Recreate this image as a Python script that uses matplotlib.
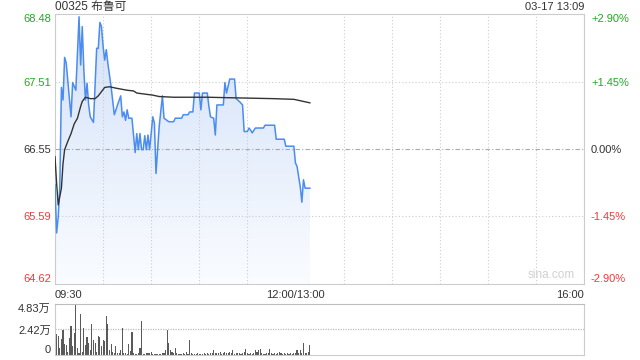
import numpy as np
import matplotlib
matplotlib.use("Agg")
import matplotlib.pyplot as plt
from matplotlib.colors import LinearSegmentedColormap

plt.rcParams['font.family'] = ['Liberation Sans', 'Noto Sans CJK SC', 'DejaVu Sans']

# minutes since 09:30 (trading minutes, lunch removed)
price_t = [0, 1, 2, 3, 4, 5, 6, 7, 10, 11, 13, 15, 16, 17, 18, 19, 20, 21, 22,
           24, 26, 27, 28, 29, 30, 31, 32, 33, 35, 37, 39, 41, 42, 43, 44, 45, 46, 48,
           50, 51, 52, 53, 54, 55, 56, 57, 58, 59, 61, 62, 63, 65, 67, 68, 71, 74, 75, 79,
           80, 83, 84, 86, 87, 90, 91, 92, 95, 96, 97, 99, 100, 101, 105, 106, 107, 109,
           112, 113, 115, 117, 118, 120, 121, 122, 123, 125, 130, 131, 137, 138, 143, 144,
           149, 150, 151, 153, 154, 155, 156, 159]
price_v = [66.04, 65.35, 65.58, 66.01, 67.43, 67.25, 67.86, 67.78, 67.01, 67.50, 67.39,
           68.44, 67.75, 68.30, 67.68, 67.25, 67.49, 67.18, 67.01, 66.93, 67.99, 67.99,
           68.36, 68.30, 68.02, 67.82, 67.97, 67.77, 67.44, 67.04, 67.18, 67.31, 67.01,
           67.08, 66.96, 67.11, 66.99, 66.99, 66.50, 66.77, 66.54, 66.77, 66.54, 66.54,
           66.74, 66.54, 66.75, 66.54, 67.01, 66.92, 66.20, 66.87, 67.31, 66.99, 66.94,
           66.94, 66.99, 66.99, 67.04, 67.04, 67.08, 67.08, 67.35, 67.35, 67.11, 67.35,
           67.35, 67.16, 67.01, 66.99, 66.75, 67.18, 67.18, 67.50, 67.35, 67.55, 67.55,
           67.27, 67.23, 67.18, 66.80, 66.80, 66.85, 66.82, 66.78, 66.85, 66.85, 66.89,
           66.89, 66.69, 66.69, 66.59, 66.59, 66.35, 66.30, 66.01, 65.79, 66.11, 65.99,
           65.99]

avg_t = [0, 1, 2, 4, 5, 6, 8, 10, 12, 14, 16, 17, 19, 22, 25, 27, 29, 31, 34, 38, 45,
         49, 51, 61, 65, 74, 95, 115, 136, 149, 151, 155, 159]
avg_v = [66.44, 66.06, 65.75, 65.99, 66.34, 66.54, 66.66, 66.77, 66.91, 66.99, 67.16,
         67.23, 67.29, 67.27, 67.27, 67.31, 67.37, 67.43, 67.44, 67.42, 67.39, 67.38,
         67.35, 67.32, 67.30, 67.29, 67.29, 67.28, 67.27, 67.26, 67.25, 67.23, 67.21]

# volume per minute, in 万
vol = [1.06, 2.0, 1.76, 0.64, 1.5, 2.4, 1.06, 0.96, 0.32, 1.6,
       2.78, 0.86, 2.08, 4.83, 0.64, 0.22, 3.84, 0.32, 2.59, 0.96,
       1.66, 1.12, 0.48, 2.97, 1.44, 1.12, 0.32, 1.76, 1.7, 0.86,
       1.38, 1.28, 3.74, 2.97, 0.48, 1.06, 0.32, 0.16, 0.86, 0.22,
       0.16, 0.48, 2.59, 0.22, 0.22, 0.06, 1.06, 0.42, 2.14, 0.16,
       0.06, 0.06, 0.16, 0.64, 3.23, 0.1, 0.06, 0.16, 0.22, 0.16,
       0.32, 0.1, 0.06, 0.1, 0.06, 0.13, 0.1, 0.22, 0.22, 0.48,
       2.4, 1.18, 0.48, 0.32, 0.16, 0.7, 0.16, 0.1, 0.13,
       0.1, 0.16, 0.06, 0.32, 0.1, 1.38, 0.16, 0.1, 0.06,
       0.1, 0.16, 0.06, 0.13, 0.1, 0.22, 0.1, 0.16, 0.13, 0.16,
       0.22, 0.48, 0.16, 0.22, 0.16, 0.32, 0.1, 0.16, 0.32, 0.16,
       0.22, 0.32, 0.16, 0.48, 0.13, 0.16, 0.22, 0.16, 0.13, 0.16,
       0.32, 0.58, 0.16, 0.13, 0.16, 0.1, 0.22, 0.48, 0.32,
       0.48, 0.58, 0.16, 0.13, 0.1, 0.16, 0.22, 0.58, 0.16,
       0.13, 0.16, 0.1, 0.22, 0.32, 0.16, 0.13, 0.16, 0.1, 0.16,
       0.13, 0.16, 0.13, 0.16, 0.22, 0.48, 0.16, 0.48, 0.16,
       1.18, 0.16, 0.22, 0.32, 0.96]

prev_close = 66.55
y_levels = [64.62, 65.59, 66.55, 67.51, 68.48]
y_labels = ['64.62', '65.59', '66.55', '67.51', '68.48']
pct_labels = ['-2.90%', '-1.45%', '0.00%', '+1.45%', '+2.90%']
level_colors = ['#f03a3a', '#f03a3a', '#333333', '#22a822', '#22a822']
x_ticks = [0, 150, 330]
x_labels = ['09:30', '12:00/13:00', '16:00']
vol_ticks = [0, 2.42, 4.83]
vol_labels = ['0', '2.42万', '4.83万']

fig = plt.figure(figsize=(6.4, 3.6), dpi=100)
ax = fig.add_axes([55 / 640, 1 - 284 / 360, 529 / 640, 270 / 360])
axv = fig.add_axes([55 / 640, 1 - 355 / 360, 529 / 640, 51 / 360])

ax.set_xlim(0, 330)
ax.set_ylim(64.62, 68.48)

# gradient fill under price
poly = ax.fill_between(price_t, price_v, 64.62, color='none', lw=0)
cmap = LinearSegmentedColormap.from_list('fill', ['#fafcff', '#d3e1f9'])
grad = np.linspace(0, 1, 256).reshape(-1, 1)
im = ax.imshow(grad, extent=[0, 330, 64.62, 68.48], origin='lower', aspect='auto',
               cmap=cmap, zorder=1)
im.set_clip_path(poly.get_paths()[0], transform=ax.transData)

ax.plot(price_t, price_v, color='#4a8cf0', lw=1.1, zorder=3)
ax.plot(avg_t, avg_v, color='#333333', lw=1.0, zorder=4)

# grid
for lv in y_levels[1:-1]:
    if lv == prev_close:
        ax.axhline(lv, color='#a8a8a8', lw=0.8, ls=(0, (4, 2, 1, 2)), zorder=2)
    else:
        ax.axhline(lv, color='#cccccc', lw=0.8, ls=(0, (1, 2)), zorder=2)
ax.set_xticks(range(30, 330, 30), minor=True)
ax.grid(which='minor', axis='x', color='#cccccc', lw=0.8, ls=(0, (1, 2)), zorder=2)
ax.tick_params(which='minor', length=0)

for s in ax.spines.values():
    s.set_color('#cccccc')
    s.set_linewidth(0.8)

ax.set_yticks(y_levels)
ax.set_yticklabels(y_labels, fontsize=8)
ax.tick_params(axis='y', length=0, pad=3)
for lbl, c in zip(ax.get_yticklabels(), level_colors):
    lbl.set_color(c)
ax.get_yticklabels()[0].set_va('bottom')
ax.get_yticklabels()[-1].set_va('top')

axr = ax.twinx()
axr.set_ylim(ax.get_ylim())
axr.set_yticks(y_levels)
axr.set_yticklabels(pct_labels, fontsize=8)
axr.tick_params(axis='y', length=0, pad=5)
for lbl, c in zip(axr.get_yticklabels(), level_colors):
    lbl.set_color(c)
axr.get_yticklabels()[0].set_va('bottom')
axr.get_yticklabels()[-1].set_va('top')
for s in axr.spines.values():
    s.set_visible(False)

ax.set_xticks(x_ticks)
ax.set_xticklabels(x_labels, fontsize=8, color='#333333')
ax.tick_params(axis='x', length=0, pad=4)
ax.get_xticklabels()[0].set_ha('left')
ax.get_xticklabels()[-1].set_ha('right')

ax.text(0, 1 + 7 / 270, '00325 布鲁可', transform=ax.transAxes, fontsize=8.5,
        color='#333333', ha='left', va='center')
ax.text(1, 1 + 7 / 270, '03-17 13:09', transform=ax.transAxes, fontsize=8,
        color='#333333', ha='right', va='center')
ax.text(0.983, 0.01, 'sina.com', transform=ax.transAxes, fontsize=8.5,
        color='#d0d0d0', ha='right', va='bottom')

# volume
axv.bar(range(len(vol)), vol, width=0.7, color='#5a5a5a', lw=0)
axv.set_xlim(0, 330)
axv.set_ylim(0, 4.83)
axv.set_xticks([])
axv.set_yticks(vol_ticks)
axv.set_yticklabels(vol_labels, fontsize=8, color='#333333')
axv.tick_params(axis='y', length=0, pad=3)
axv.get_yticklabels()[0].set_va('bottom')
axv.get_yticklabels()[-1].set_va('top')
axv.axhline(2.42, color='#bdbdbd', lw=0.9, ls=(0, (1, 1)), zorder=0)
for s in axv.spines.values():
    s.set_color('#cccccc')
    s.set_linewidth(0.8)
axv.spines['top'].set_linestyle((0, (1, 1)))
axv.spines['top'].set_color('#bdbdbd')

fig.savefig('out.png', dpi=100)
